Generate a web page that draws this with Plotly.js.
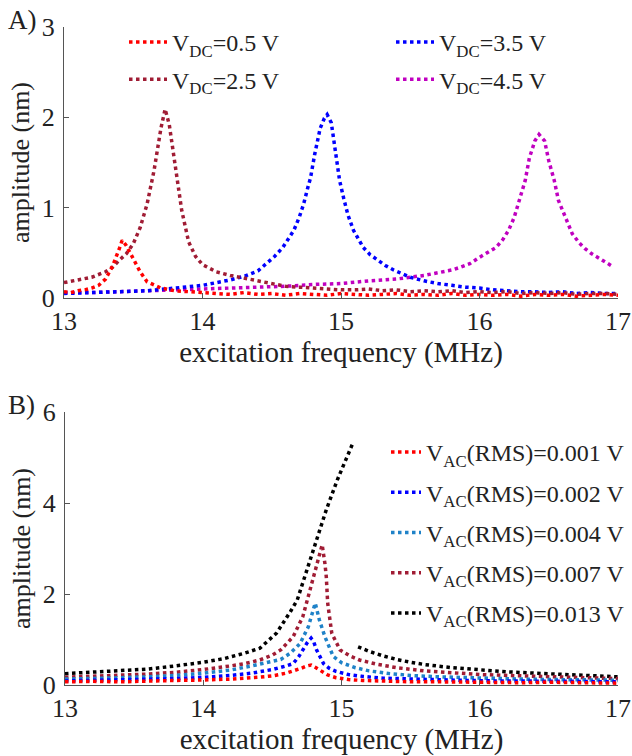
<!DOCTYPE html>
<html>
<head>
<meta charset="utf-8">
<script src="https://cdn.plot.ly/plotly-3.0.1.min.js"></script>
<style>html,body{margin:0;padding:0;background:#fff;}#chart{width:632px;height:756px;}</style>
</head>
<body>
<div id="chart"></div>
<script>
// ---------- Panel A: V_DC sweep ----------
const fA05 = [13.0,13.05,13.1,13.15,13.2,13.25,13.3,13.35,13.4,13.42,13.45,13.5,13.55,13.6,13.65,13.7,13.8,13.9,14.0,14.1,14.2,14.3,14.4,14.5,14.6,14.7,14.8,14.9,15.0,15.1,15.2,15.3,15.4,15.5,15.6,15.7,15.8,15.9,16.0,16.1,16.2,16.3,16.4,16.5,16.6,16.7,16.8,16.9,17.0];
const aA05 = [0.07,0.06,0.08,0.09,0.11,0.14,0.21,0.35,0.55,0.64,0.58,0.44,0.29,0.18,0.14,0.11,0.08,0.07,0.06,0.05,0.04,0.06,0.04,0.05,0.03,0.05,0.04,0.03,0.05,0.04,0.03,0.04,0.05,0.03,0.04,0.03,0.05,0.03,0.04,0.03,0.04,0.02,0.04,0.03,0.04,0.02,0.03,0.04,0.03];

const fA25 = [13.0,13.1,13.2,13.3,13.35,13.4,13.45,13.5,13.55,13.6,13.65,13.7,13.73,13.76,13.8,13.85,13.9,13.95,14.0,14.05,14.1,14.2,14.3,14.4,14.5,14.6,14.7,14.8,14.9,15.0,15.1,15.2,15.3,15.4,15.5,15.6,15.7,15.8,15.9,16.0,16.1,16.2,16.3,16.4,16.5,16.6,16.7,16.8,16.9,17.0];
const aA25 = [0.17,0.20,0.23,0.29,0.34,0.42,0.49,0.60,0.78,1.04,1.41,1.88,2.09,1.92,1.52,0.97,0.62,0.46,0.37,0.33,0.29,0.25,0.22,0.19,0.16,0.13,0.12,0.11,0.10,0.09,0.09,0.10,0.08,0.09,0.07,0.08,0.07,0.08,0.06,0.07,0.06,0.07,0.05,0.06,0.05,0.06,0.04,0.05,0.05,0.04];

const fA35 = [13.0,13.2,13.4,13.6,13.8,14.0,14.1,14.2,14.3,14.4,14.46,14.52,14.58,14.62,14.66,14.7,14.73,14.76,14.78,14.81,14.85,14.88,14.9,14.93,14.96,14.99,15.02,15.05,15.09,15.13,15.16,15.21,15.26,15.32,15.38,15.44,15.5,15.6,15.7,15.8,15.9,16.0,16.1,16.2,16.3,16.4,16.5,16.6,16.7,16.8,16.9,17.0];
const aA35 = [0.05,0.06,0.07,0.08,0.11,0.14,0.17,0.20,0.24,0.30,0.38,0.46,0.56,0.65,0.75,0.90,1.04,1.22,1.33,1.59,1.88,1.99,2.03,1.94,1.60,1.30,1.10,0.92,0.75,0.63,0.56,0.48,0.42,0.36,0.31,0.27,0.23,0.19,0.16,0.14,0.12,0.11,0.09,0.08,0.07,0.07,0.06,0.07,0.05,0.06,0.05,0.05];

const fA45 = [13.0,13.2,13.4,13.6,13.8,14.0,14.2,14.4,14.6,14.8,15.0,15.2,15.4,15.6,15.71,15.8,15.86,15.93,16.0,16.06,16.12,16.17,16.21,16.25,16.28,16.31,16.33,16.36,16.4,16.43,16.47,16.5,16.54,16.57,16.62,16.67,16.72,16.76,16.81,16.86,16.91,16.96];
const aA45 = [0.06,0.06,0.07,0.08,0.09,0.10,0.11,0.12,0.13,0.15,0.16,0.19,0.21,0.25,0.28,0.31,0.34,0.38,0.45,0.50,0.56,0.65,0.75,0.89,1.04,1.18,1.30,1.55,1.74,1.81,1.74,1.52,1.30,1.08,0.89,0.71,0.61,0.55,0.49,0.44,0.39,0.35];

// ---------- Panel B: V_AC sweep ----------
const fB001 = [13.0,13.2,13.4,13.6,13.8,14.0,14.2,14.4,14.5,14.6,14.66,14.71,14.75,14.78,14.81,14.85,14.9,14.96,15.05,15.15,15.3,15.5,15.7,15.9,16.1,16.3,16.5,16.7,16.9,17.0];
const aB001 = [0.07,0.08,0.07,0.09,0.10,0.11,0.13,0.17,0.20,0.26,0.31,0.37,0.42,0.44,0.39,0.31,0.22,0.16,0.12,0.10,0.08,0.07,0.07,0.06,0.06,0.05,0.06,0.05,0.05,0.04];

const fB002 = [13.0,13.2,13.4,13.6,13.8,14.0,14.2,14.35,14.5,14.6,14.65,14.69,14.72,14.75,14.78,14.8,14.82,14.85,14.87,14.91,14.96,15.05,15.15,15.3,15.5,15.7,15.9,16.1,16.3,16.5,16.7,16.9,17.0];
const aB002 = [0.09,0.10,0.11,0.12,0.14,0.17,0.21,0.26,0.34,0.42,0.47,0.62,0.77,0.92,1.03,0.94,0.77,0.60,0.47,0.37,0.30,0.23,0.19,0.15,0.13,0.11,0.10,0.09,0.09,0.08,0.08,0.07,0.07];

const fB004 = [13.0,13.2,13.4,13.6,13.8,14.0,14.2,14.35,14.45,14.56,14.63,14.7,14.76,14.79,14.81,14.84,14.88,14.94,15.0,15.1,15.2,15.35,15.5,15.7,15.9,16.1,16.3,16.5,16.7,16.9,17.0];
const aB004 = [0.13,0.14,0.16,0.18,0.21,0.26,0.33,0.42,0.48,0.56,0.70,0.91,1.28,1.59,1.80,1.43,1.06,0.63,0.49,0.38,0.31,0.25,0.21,0.18,0.16,0.14,0.13,0.12,0.12,0.11,0.10];

const fB007 = [13.0,13.2,13.4,13.6,13.8,14.0,14.2,14.3,14.41,14.5,14.56,14.65,14.72,14.77,14.82,14.86,14.88,14.89,14.9,14.91,14.93,14.99,15.06,15.13,15.25,15.4,15.6,15.8,16.0,16.2,16.4,16.6,16.8,17.0];
const aB007 = [0.17,0.19,0.21,0.24,0.28,0.34,0.42,0.47,0.55,0.66,0.77,1.06,1.50,2.08,2.67,3.08,2.67,2.38,1.80,1.54,1.13,0.77,0.64,0.55,0.46,0.38,0.31,0.27,0.23,0.21,0.19,0.17,0.16,0.14];

const fB013 = [13.0,13.2,13.4,13.6,13.8,14.0,14.15,14.3,14.41,14.53,14.63,14.68,14.75,14.82,14.89,14.97,15.04,15.08,15.1,15.12,15.2,15.3,15.4,15.5,15.6,15.8,16.0,16.2,16.4,16.6,16.8,17.0];
const aB013 = [0.25,0.28,0.31,0.35,0.42,0.50,0.58,0.70,0.81,1.14,1.61,1.87,2.53,3.19,3.85,4.51,5.02,5.30,null,0.84,0.74,0.64,0.56,0.50,0.45,0.38,0.33,0.29,0.26,0.23,0.20,0.18];

const namesA = ['V<sub>DC</sub>=0.5 V','V<sub>DC</sub>=2.5 V','V<sub>DC</sub>=3.5 V','V<sub>DC</sub>=4.5 V'];
const namesB = ['V<sub>AC</sub>(RMS)=0.001 V','V<sub>AC</sub>(RMS)=0.002 V','V<sub>AC</sub>(RMS)=0.004 V','V<sub>AC</sub>(RMS)=0.007 V','V<sub>AC</sub>(RMS)=0.013 V'];
const xTicks = [13,14,15,16,17];
const yTicksA = [0,1,2,3];
const yTicksB = [0,2,4,6];

const FONT = 'Liberation Serif';
const LW = 3.5;
function tr(x, y, name, color, xa, ya, legend, rank) {
  return {x: x, y: y, name: name, type: 'scatter', mode: 'lines', xaxis: xa, yaxis: ya, legend: legend,
          legendgroup: name, legendrank: rank, connectgaps: false,
          line: {color: color, width: LW, dash: 'dot'}, hoverinfo: 'skip'};
}
const data = [
  tr(fA45, aA45, namesA[3], '#c000c0', 'x', 'y', 'legend2', 4),
  tr(fA35, aA35, namesA[2], '#0000ff', 'x', 'y', 'legend2', 3),
  tr(fA25, aA25, namesA[1], '#a01c34', 'x', 'y', 'legend', 2),
  tr(fA05, aA05, namesA[0], '#ff0000', 'x', 'y', 'legend', 1),
  tr(fB013, aB013, namesB[4], '#000000', 'x2', 'y2', 'legend3', 5),
  tr(fB007, aB007, namesB[3], '#a01c34', 'x2', 'y2', 'legend3', 4),
  tr(fB004, aB004, namesB[2], '#1f82c8', 'x2', 'y2', 'legend3', 3),
  tr(fB002, aB002, namesB[1], '#0000ff', 'x2', 'y2', 'legend3', 2),
  tr(fB001, aB001, namesB[0], '#ff0000', 'x2', 'y2', 'legend3', 1)
];

const W = 632, H = 756;
const px = v => v / W, py = v => (H - v) / H;
const TXT = '#222';
function xax(domain, anchor) {
  return {domain: domain, anchor: anchor, range: [13, 17], tickvals: xTicks, ticktext: xTicks.map(String),
    showline: true, linecolor: '#555', linewidth: 1, ticks: 'inside', ticklen: 5, tickcolor: '#555',
    showgrid: false, zeroline: false, automargin: false,
    tickfont: {family: FONT, size: 26, color: TXT},
    title: {text: 'excitation frequency (MHz)', font: {family: FONT, size: 29, color: TXT}, standoff: 0}};
}
function yax(domain, anchor, range, ticks) {
  return {domain: domain, anchor: anchor, range: range, tickvals: ticks, ticktext: ticks.map(String),
    showline: true, linecolor: '#555', linewidth: 1, ticks: 'inside', ticklen: 5, tickcolor: '#555',
    showgrid: false, zeroline: false, automargin: false, ticklabelstandoff: 3,
    tickfont: {family: FONT, size: 26, color: TXT},
    title: {text: 'amplitude (nm)', font: {family: FONT, size: 26, color: TXT}, standoff: 4}};
}
const legA = {family: FONT, size: 24, color: TXT};
const legB = {family: FONT, size: 24, color: TXT};
const layout = {
  width: W, height: H, margin: {l: 0, r: 0, t: 0, b: 0},
  paper_bgcolor: '#fff', plot_bgcolor: '#fff', showlegend: true,
  xaxis: xax([px(64), px(618)], 'y'),
  yaxis: yax([py(298), py(27)], 'x', [0, 3], yTicksA),
  xaxis2: xax([px(65), px(618)], 'y2'),
  yaxis2: yax([py(685), py(412)], 'x2', [0, 6], yTicksB),
  legend: {x: px(124), y: py(20), xanchor: 'left', yanchor: 'top', bgcolor: 'rgba(0,0,0,0)', font: legA, traceorder: 'grouped', tracegroupgap: 3, itemwidth: 38},
  legend2: {x: px(391), y: py(20), xanchor: 'left', yanchor: 'top', bgcolor: 'rgba(0,0,0,0)', font: legA, traceorder: 'grouped', tracegroupgap: 3, itemwidth: 38},
  legend3: {x: px(386), y: py(430), xanchor: 'left', yanchor: 'top', bgcolor: 'rgba(0,0,0,0)', font: legB, traceorder: 'grouped', tracegroupgap: 6, itemwidth: 30},
  annotations: [
    {text: 'A)', xref: 'paper', yref: 'paper', x: px(6), y: py(20), xanchor: 'left', yanchor: 'middle', showarrow: false, font: {family: FONT, size: 27, color: TXT}},
    {text: 'B)', xref: 'paper', yref: 'paper', x: px(6), y: py(405), xanchor: 'left', yanchor: 'middle', showarrow: false, font: {family: FONT, size: 27, color: TXT}}
  ]
};
Plotly.newPlot('chart', data, layout, {staticPlot: true, displayModeBar: false});
</script>
</body>
</html>
